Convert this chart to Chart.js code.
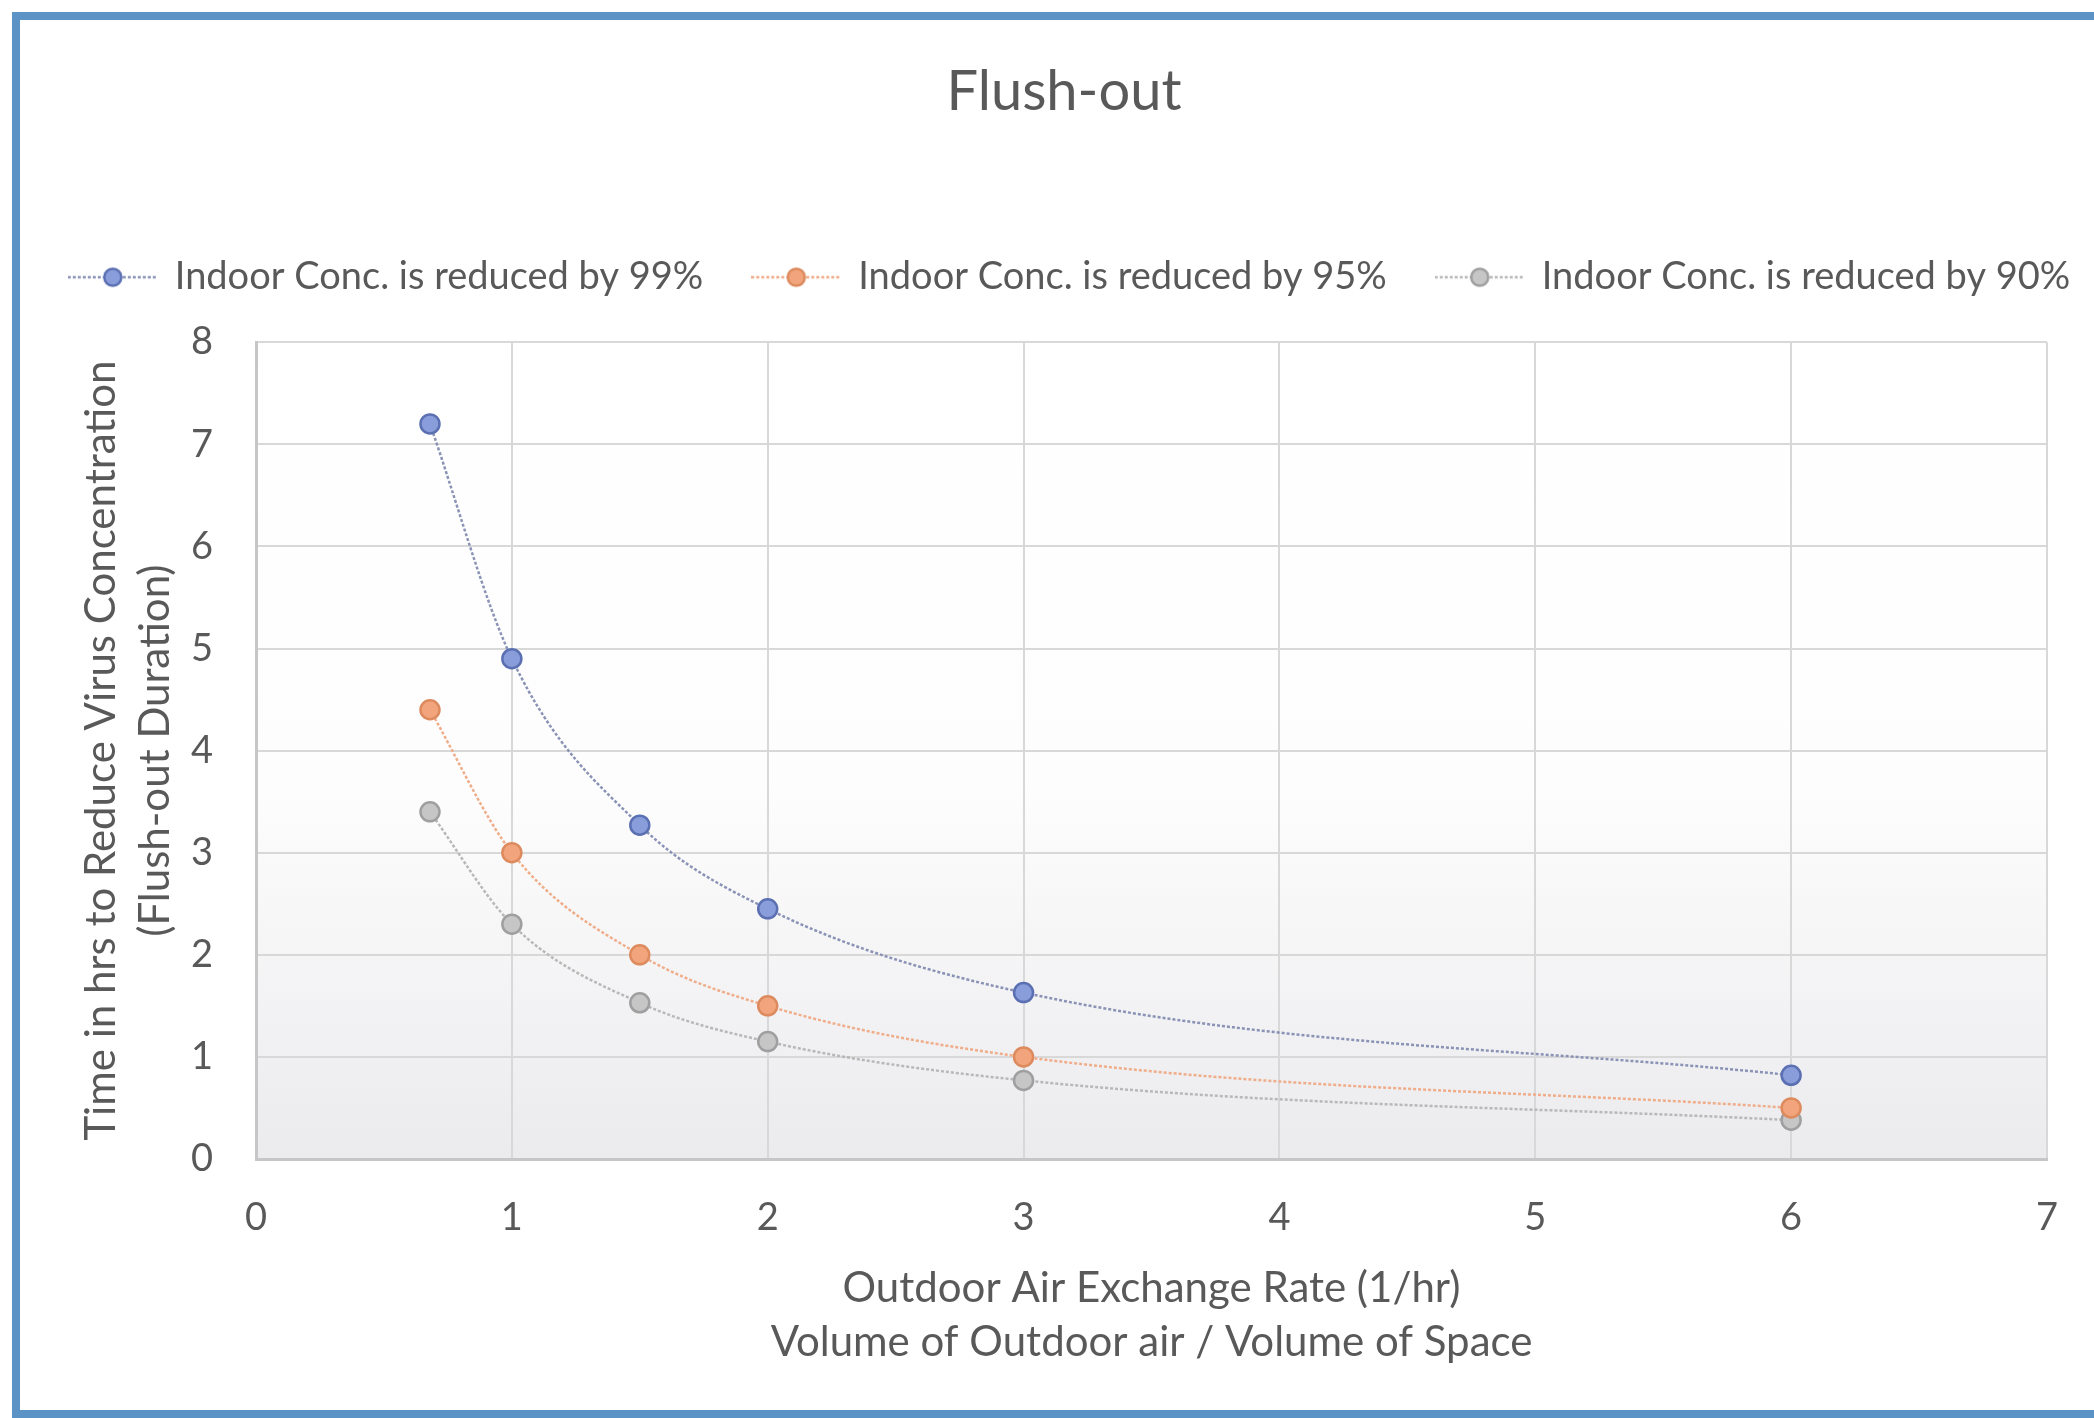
<!DOCTYPE html>
<html lang="en">
  <head>
    <meta charset="utf-8" />
    <title>Flush-out</title>
    <script src="https://cdn.jsdelivr.net/npm/chart.js@4.4.1/dist/chart.umd.min.js"></script>
    <style>
      * { margin: 0; padding: 0; box-sizing: border-box; }
      body { width: 2094px; height: 1418px; background: #fff; overflow: hidden; position: relative; }
      .frame {
        position: absolute; left: 12px; top: 12px; width: 2200px; height: 1406px;
        border: 8px solid #5b93c7; border-right: none;
      }
      #chart { position: absolute; left: 0; top: 0; }
    </style>
  </head>
  <body>
    <div class="frame"></div>
    <canvas id="chart" width="2094" height="1418"></canvas>
    <script>
      // data
      const airChanges = [0.68, 1, 1.5, 2, 3, 6];
      const reduced99 = [7.2, 4.9, 3.27, 2.45, 1.63, 0.82];
      const reduced95 = [4.4, 3.0, 2.0, 1.5, 1.0, 0.5];
      const reduced90 = [3.4, 2.3, 1.53, 1.15, 0.77, 0.38];
      const seriesNames = [
        "Indoor Conc. is reduced by 99%",
        "Indoor Conc. is reduced by 95%",
        "Indoor Conc. is reduced by 90%",
      ];
      const xTicks = [0, 1, 2, 3, 4, 5, 6, 7];
      const yTicks = [0, 1, 2, 3, 4, 5, 6, 7, 8];

      const styles = [
        { line: "#8a93b6", fill: "#8a9ddb", border: "#5b70b2" },
        { line: "#f0ad8a", fill: "#f2a57c", border: "#dc8a5e" },
        { line: "#b8b8b8", fill: "#c6c6c6", border: "#9f9f9f" },
      ];

      const toPoints = (ys) => airChanges.map((x, i) => ({ x: x, y: ys[i] }));

      // little "line + marker" icons for the legend
      const makeIcon = (s) => {
        const c = document.createElement("canvas");
        c.width = 90;
        c.height = 26;
        const g = c.getContext("2d");
        g.strokeStyle = s.line;
        g.lineWidth = 2.5;
        g.setLineDash([3, 2]);
        g.beginPath();
        g.moveTo(0, 13);
        g.lineTo(90, 13);
        g.stroke();
        g.setLineDash([]);
        g.beginPath();
        g.arc(45, 13, 8.5, 0, Math.PI * 2);
        g.fillStyle = s.fill;
        g.fill();
        g.lineWidth = 2.5;
        g.strokeStyle = s.border;
        g.stroke();
        return c;
      };
      const legendIcons = styles.map(makeIcon);

      const plotBackground = {
        id: "plotBackground",
        beforeInit(chart) {
          // keep the legend on one row, and leave a gap under it
          const fit = chart.legend.fit;
          chart.legend.fit = function () {
            this.maxWidth = 2400;
            fit.call(this);
            this.height += 36;
          };
        },
        afterLayout(chart) {
          chart.legend.left = -60;
          chart.legend.right = 2200;
          chart.titleBlock.left = 64;
          chart.titleBlock.right = 2064;
        },
        beforeDraw(chart) {
          const { ctx, chartArea: a } = chart;
          const grad = ctx.createLinearGradient(0, a.top, 0, a.bottom);
          grad.addColorStop(0, "#ffffff");
          grad.addColorStop(0.55, "#fdfdfd");
          grad.addColorStop(1, "#ebebee");
          ctx.save();
          ctx.fillStyle = grad;
          ctx.fillRect(a.left, a.top, a.right - a.left, a.bottom - a.top);
          ctx.restore();
        },
      };

      const font = "Lato, 'Open Sans', sans-serif";
      const textColor = "#595959";

      const datasets = [reduced99, reduced95, reduced90].map((ys, i) => ({
        label: seriesNames[i],
        data: toPoints(ys),
        borderColor: styles[i].line,
        borderWidth: 2.5,
        borderDash: [3, 2],
        pointRadius: 9.5,
        pointBorderWidth: 2.5,
        pointBackgroundColor: styles[i].fill,
        pointBorderColor: styles[i].border,
        cubicInterpolationMode: "monotone",
        fill: false,
      }));

      new Chart(document.getElementById("chart"), {
        type: "line",
        data: { datasets: datasets },
        plugins: [plotBackground],
        options: {
          responsive: false,
          animation: false,
          layout: { padding: { left: 80, right: 38, top: 0, bottom: 0 } },
          plugins: {
            tooltip: { enabled: false },
            title: {
              display: true,
              text: "Flush-out",
              color: textColor,
              font: { family: font, size: 56, weight: "normal", lineHeight: 1.2 },
              padding: { top: 58, bottom: 83 },
            },
            legend: {
              display: true,
              labels: {
                usePointStyle: true,
                pointStyleWidth: 86,
                padding: 50,
                color: textColor,
                font: { family: font, size: 38 },
                generateLabels: (chart) =>
                  Chart.defaults.plugins.legend.labels
                    .generateLabels(chart)
                    .map((item, i) => ({ ...item, pointStyle: legendIcons[i] })),
              },
            },
          },
          scales: {
            x: {
              type: "linear",
              min: 0,
              max: 7,
              afterBuildTicks: (scale) => {
                scale.ticks = xTicks.map((v) => ({ value: v }));
              },
              afterFit: (scale) => {
                scale.height = 259;
              },
              grid: { color: "#d8d8d8", lineWidth: 2, drawTicks: false },
              border: { color: "#c6c6c6", width: 3 },
              ticks: { color: textColor, padding: 36, font: { family: font, size: 38 } },
              title: {
                display: true,
                text: ["Outdoor Air Exchange Rate (1/hr)", "Volume of Outdoor air / Volume of Space"],
                color: textColor,
                font: { family: font, size: 42, lineHeight: 1.286 },
                padding: { top: 0, bottom: 49 },
              },
            },
            y: {
              type: "linear",
              min: 0,
              max: 8,
              afterBuildTicks: (scale) => {
                scale.ticks = yTicks.map((v) => ({ value: v }));
              },
              afterFit: (scale) => {
                scale.width = 176;
              },
              grid: { color: "#d8d8d8", lineWidth: 2, drawTicks: false },
              border: { color: "#c6c6c6", width: 3 },
              ticks: { color: textColor, padding: 43, font: { family: font, size: 38 } },
              title: {
                display: true,
                text: ["Time in hrs to Reduce Virus Concentration", "(Flush-out Duration)"],
                color: textColor,
                font: { family: font, size: 42, lineHeight: 1.286 },
                padding: { top: -6, bottom: 0 },
              },
            },
          },
        },
      });
    </script>
  </body>
</html>
